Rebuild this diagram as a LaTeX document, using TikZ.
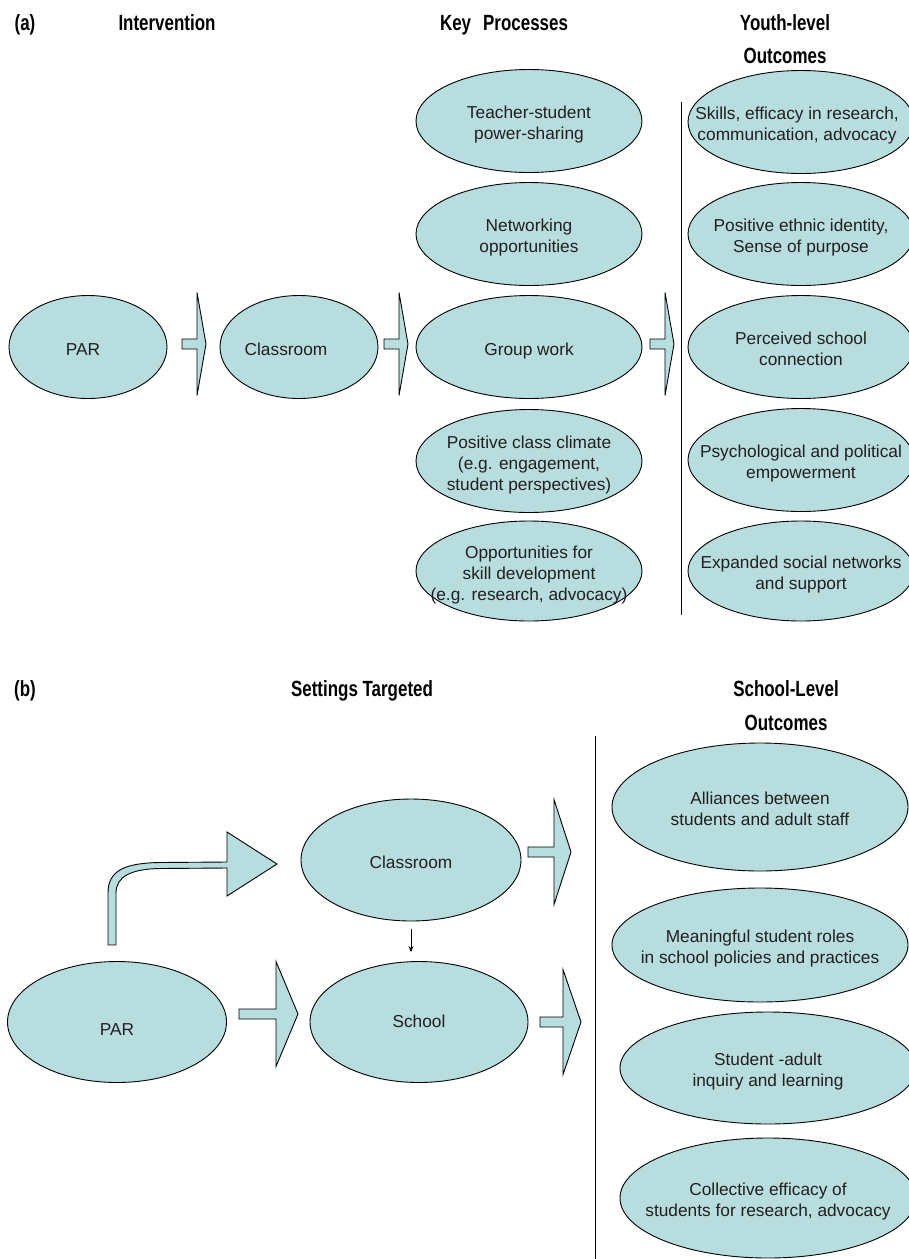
\documentclass[tikz,border=0pt]{standalone}
\usepackage{fontspec}
\setmainfont{Liberation Sans}
\newfontfamily\hdrfont[FakeStretch=0.77]{Liberation Sans}
\usetikzlibrary{shapes.geometric,arrows.meta}
\definecolor{fillc}{HTML}{B7DDDF}
\definecolor{txtc}{HTML}{231F20}
% centred text block of zero size, shifted by #1 (x) and #2 (y, downwards)
\newcommand{\ctrxy}[3]{\raisebox{\dimexpr-8.5pt-#2\relax}[0pt][0pt]{\makebox[0pt][l]{\hspace*{#1}\makebox[0pt]{\begin{tabular}{@{}c@{}}#3\end{tabular}}}}}
\newcommand{\ctr}[1]{\ctrxy{0pt}{0pt}{#1}}
% block arrow: #1 x start, #2 x head base, #3 x tip, #4 y centre, #5 shaft half, #6 head half
\newcommand{\barrow}[6]{%
  \draw[blk] (#1,{#4-#5}) -- (#2,{#4-#5}) -- (#2,{#4-#6}) -- (#3,#4) -- (#2,{#4+#6}) -- (#2,{#4+#5}) -- (#1,{#4+#5}) -- cycle;}
\begin{document}
\begin{tikzpicture}[x=1pt,y=-1pt,
  oval/.style={ellipse, draw=black, line width=0.9pt, fill=fillc, inner sep=0pt,
    text=txtc, font=\fontsize{17.3}{21}\selectfont},
  hdr/.style={font=\hdrfont\bfseries\fontsize{22}{26}\selectfont, text=black, inner sep=0pt, anchor=base},
  blk/.style={draw=black, line width=0.9pt, fill=fillc, line join=miter},
  sepline/.style={draw=black, line width=0.8pt},
]
\useasboundingbox (0,0) rectangle (909,1259);

% ---------------- (a) ----------------
\node[hdr] (ha) at (25,30) {(a)};
\node[hdr] (hint) at (167,30) {Intervention};
\node[hdr] (hkey) at (504,30) {Key\hspace{0.55em}Processes};
\node[hdr] (hyl) at (785,30) {Youth-level};
\node[hdr] (hyo) at (785,63) {Outcomes};

\node[oval, minimum width=158pt, minimum height=103pt] (par1) at (88,347) {\ctrxy{-5pt}{0pt}{PAR}};
\node[oval, minimum width=158pt, minimum height=103pt] (cls1) at (299,347) {\ctrxy{-13pt}{0pt}{Classroom}};

\node[oval, minimum width=226pt, minimum height=103pt] (k1) at (529,121) {\ctr{Teacher-student\\power-sharing}};
\node[oval, minimum width=226pt, minimum height=103pt] (k2) at (529,234) {\ctr{Networking\\opportunities}};
\node[oval, minimum width=226pt, minimum height=103pt] (k3) at (529,347) {\ctr{Group work}};
\node[oval, minimum width=226pt, minimum height=103pt] (k4) at (529,461) {\ctr{Positive class climate\\(e.g. engagement,\\student perspectives)}};
\node[oval, minimum width=226pt, minimum height=100pt] (k5) at (529,571) {\ctr{Opportunities for\\skill development\\(e.g. research, advocacy)}};

\node[oval, minimum width=226pt, minimum height=103pt] (y1) at (801,122) {\ctrxy{-4pt}{0pt}{Skills, efficacy in research,\\communication, advocacy}};
\node[oval, minimum width=226pt, minimum height=103pt] (y2) at (801,234) {\ctr{Positive ethnic identity,\\Sense of purpose}};
\node[oval, minimum width=226pt, minimum height=103pt] (y3) at (801,347) {\ctr{Perceived school\\connection}};
\node[oval, minimum width=226pt, minimum height=103pt] (y4) at (801,460) {\ctr{Psychological and political\\empowerment}};
\node[oval, minimum width=226pt, minimum height=100pt] (y5) at (801,571) {\ctr{Expanded social networks\\and support}};

\coordinate (la1) at (681,102);
\coordinate (la2) at (681,615);
\draw[sepline] (la1) -- (la2);

\barrow{182}{197}{206}{344}{5}{51.5}
\barrow{384}{399}{408}{344}{5}{51.5}
\barrow{650}{665}{674}{344}{5}{51.5}

% ---------------- (b) ----------------
\node[hdr] (hb) at (25,696) {(b)};
\node[hdr] (hset) at (362,696) {Settings Targeted};
\node[hdr] (hsl) at (786,696) {School-Level};
\node[hdr] (hso) at (786,730) {Outcomes};

\node[oval, minimum width=220pt, minimum height=122pt] (cls2) at (411,860) {\ctr{Classroom}};
\node[oval, minimum width=219pt, minimum height=121pt] (par2) at (117,1022) {\ctrxy{0pt}{5pt}{PAR}};
\node[oval, minimum width=218pt, minimum height=121pt] (sch) at (419,1022) {\ctrxy{0pt}{-3pt}{School}};

\node[oval, minimum width=296pt, minimum height=128pt] (o1) at (760,807) {\ctr{Alliances between\\students and adult staff}};
\node[oval, minimum width=296pt, minimum height=114pt] (o2) at (760,945) {\ctr{Meaningful student roles\\in school policies and practices}};
\node[oval, minimum width=296pt, minimum height=112pt] (o3) at (768,1068) {\ctr{Student -adult\\inquiry and learning}};
\node[oval, minimum width=296pt, minimum height=120pt] (o4) at (768,1198) {\ctr{Collective efficacy of\\students for research, advocacy}};

\coordinate (lb1) at (595,736);
\coordinate (lb2) at (595,1259);
\draw[sepline] (lb1) -- (lb2);

% curved arrow PAR -> Classroom
\draw[blk] (108,945) -- (108,893) .. controls (108,871) and (124,863) .. (160,862.5)
  -- (227,862) -- (227,832) -- (277,864) -- (227,896) -- (227,868)
  -- (160,868.5) .. controls (132,869) and (116,876) .. (116,893) -- (116,945) -- cycle;

% small arrow Classroom -> School
\draw[line width=0.8pt, -{Stealth[length=6pt,width=5pt]}, shorten <=8pt, shorten >=9pt]
  (cls2.south) -- (cls2.south |- sch.north);

\barrow{528}{554}{571}{852}{5}{52.5}
\barrow{239}{276}{298}{1014}{5}{52.5}
\barrow{540}{563}{581}{1022}{5}{52.5}
\end{tikzpicture}
\end{document}
